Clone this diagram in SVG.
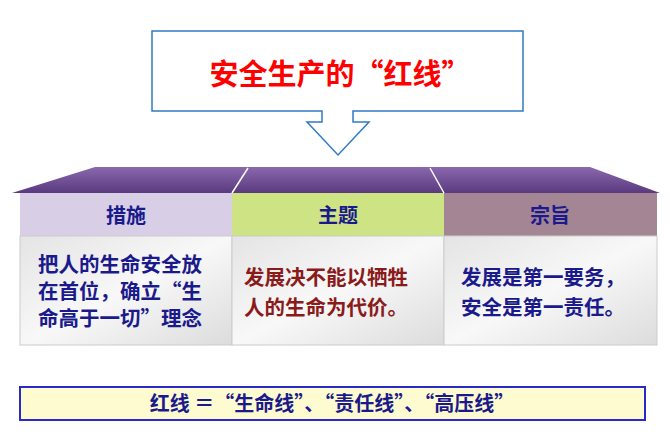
<svg xmlns="http://www.w3.org/2000/svg" width="670" height="432" viewBox="0 0 670 432">
<defs>
<style>
.t{font-family:"Noto Sans CJK SC","Liberation Sans",sans-serif;font-weight:bold}
.h{font-size:20px;fill:#1a1a8c;text-anchor:middle}
.b{font-size:20.5px;fill:#1a1a8c}
.r{fill:#8b1a1a}
</style>
<linearGradient id="roof" x1="0" y1="0" x2="0" y2="1"><stop offset="0" stop-color="#8a68ad"/><stop offset="1" stop-color="#5a3a7f"/></linearGradient>
<linearGradient id="body" x1="0" y1="0" x2="1" y2="1"><stop offset="0" stop-color="#e4e4e4"/><stop offset="0.5" stop-color="#f8f8f8"/><stop offset="1" stop-color="#dcdcdc"/></linearGradient>
</defs>
<rect width="670" height="432" fill="#fff"/>
<g id="title">
<path d="M152,31 H523 V111 H353 V122 H369 L338,155 L307,122 H322 V111 H152 Z" fill="#fff" stroke="#2e7bc4" stroke-width="1.5"/>
<text x="340" y="85" class="t" font-size="29" fill="#f00" text-anchor="middle">安全生产的“红线”</text>
</g>
<g id="roof">
<path d="M12,193 L95,167 H590 L660,193 Z" fill="url(#roof)"/>
<path d="M232,193 L248,168 M444,193 L430,168" stroke="#fff" stroke-width="1.5"/>
</g>
<g id="col1">
<rect x="20" y="193" width="212" height="43" fill="#d8cfe6"/>
<text x="126" y="223" class="t h">措施</text>
<rect x="20" y="236" width="212" height="109" fill="url(#body)" stroke="#ccc"/>
<text class="t b" x="38" y="272">把人的生命安全放</text>
<text class="t b" x="38" y="299">在首位，确立“生</text>
<text class="t b" x="38" y="326">命高于一切”理念</text>
</g>
<g id="col2">
<rect x="232" y="193" width="212" height="43" fill="#cde384"/>
<text x="338" y="223" class="t h">主题</text>
<rect x="232" y="236" width="212" height="109" fill="url(#body)" stroke="#ccc"/>
<text class="t b r" x="244" y="285">发展决不能以牺牲</text>
<text class="t b r" x="244" y="315">人的生命为代价。</text>
</g>
<g id="col3">
<rect x="444" y="193" width="213" height="43" fill="#a48593"/>
<text x="550" y="223" class="t h">宗旨</text>
<rect x="444" y="236" width="213" height="109" fill="url(#body)" stroke="#ccc"/>
<text class="t b" x="461" y="285">发展是第一要务，</text>
<text class="t b" x="461" y="315">安全是第一责任。</text>
</g>
<g id="footer">
<rect x="20" y="387" width="625" height="33" fill="#fffbd0" stroke="#2a2ac8" stroke-width="2"/>
<text x="332" y="411" class="t" font-size="20" fill="#1a1a8c" text-anchor="middle">红线 ＝“生命线”、“责任线”、“高压线”</text>
</g>
<g id="connectors"/>
</svg>
